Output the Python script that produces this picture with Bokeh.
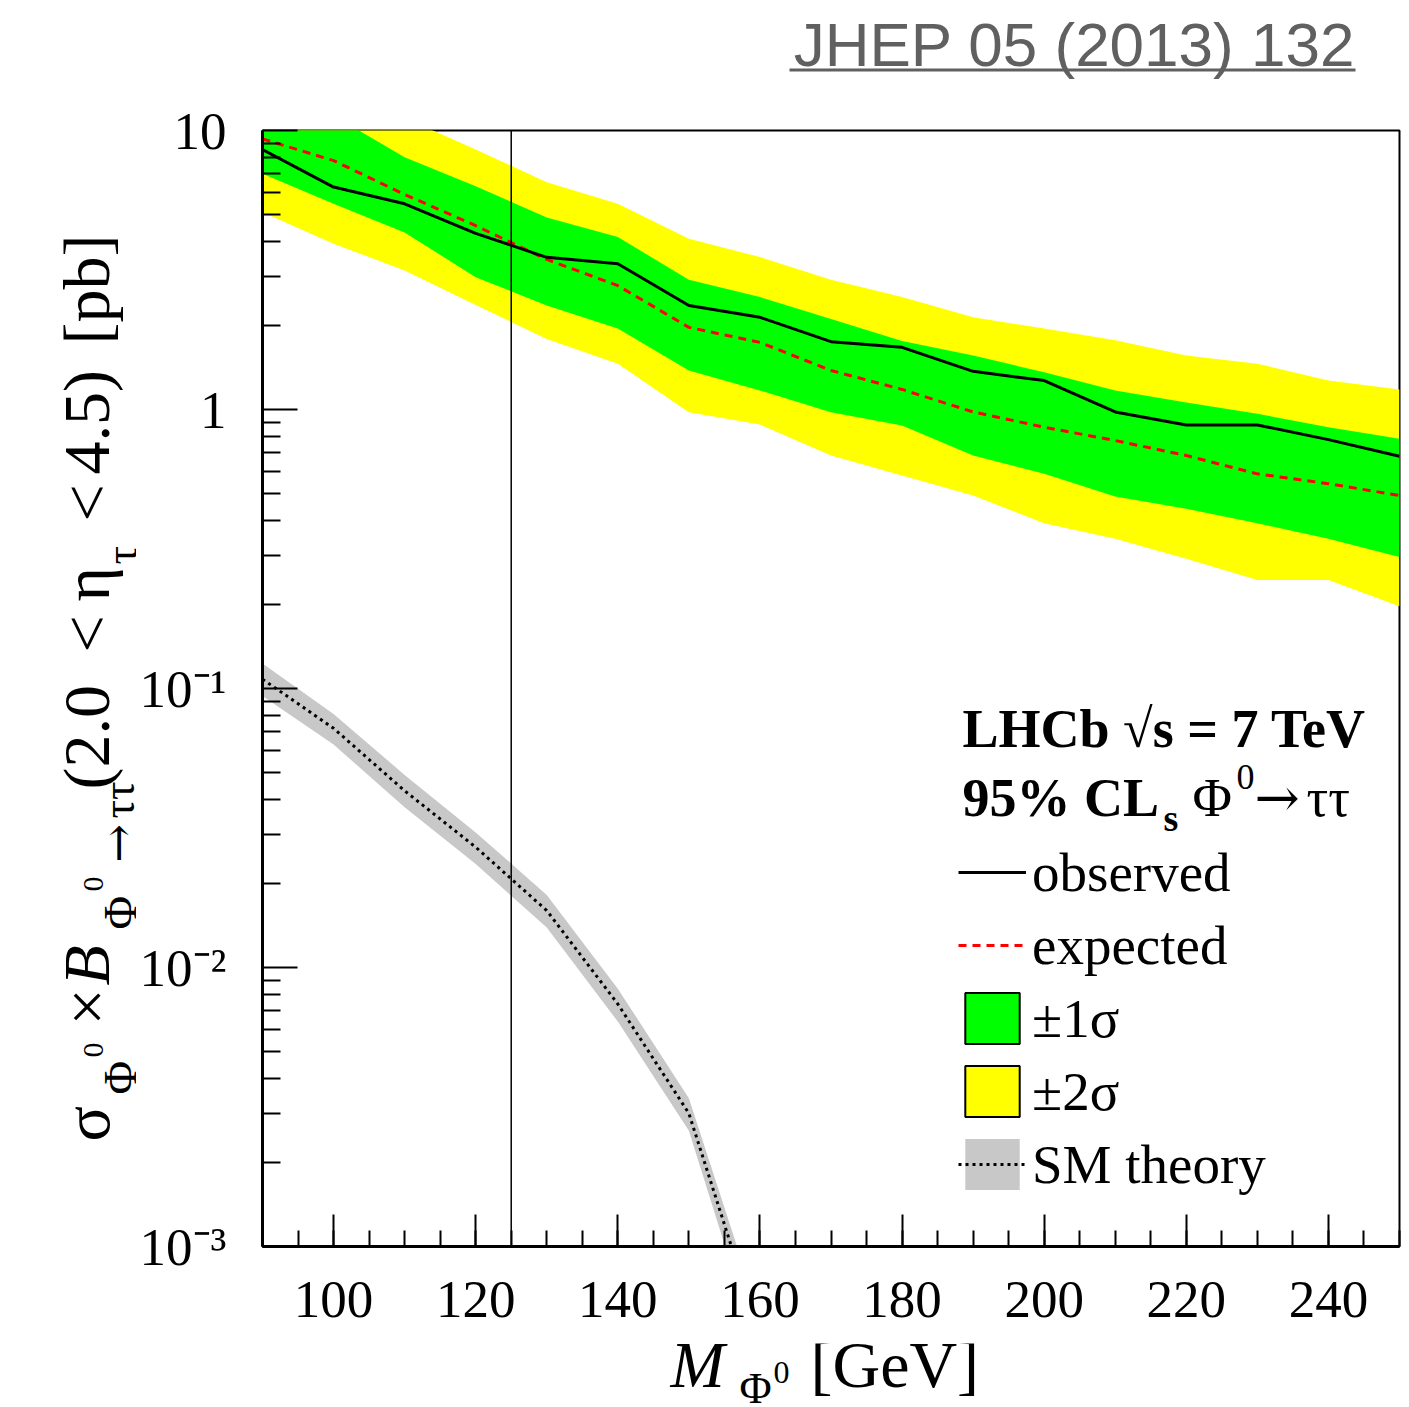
from bokeh.plotting import figure
from bokeh.layouts import column, row
from bokeh.models import (Range1d, FixedTicker, Label, Span, Legend, LegendItem,
                          BoxAnnotation)
from bokeh.embed import file_html
from bokeh.resources import INLINE

# ---------------- data ----------------
mass = [90, 100, 110, 120, 130, 140, 150, 160, 170, 180, 190, 200, 210, 220, 230, 240, 250]
observed = [8.55, 6.27, 5.46, 4.28, 3.51, 3.33, 2.36, 2.14, 1.75, 1.67, 1.37, 1.27,
            0.98, 0.88, 0.88, 0.78, 0.68]
expected = [9.33, 7.8, 5.9, 4.56, 3.45, 2.78, 1.97, 1.74, 1.38, 1.18, 0.98, 0.864,
            0.774, 0.684, 0.588, 0.542, 0.492]
sigma1_hi = [15.6, 11.3, 8.02, 6.31, 4.88, 4.15, 2.92, 2.53, 2.11, 1.76, 1.56, 1.36,
             1.17, 1.06, 0.965, 0.864, 0.785]
sigma1_lo = [7.0, 5.46, 4.31, 2.98, 2.36, 1.95, 1.38, 1.17, 0.978, 0.877, 0.684, 0.588,
             0.488, 0.441, 0.391, 0.344, 0.296]
sigma2_hi = [18.0, 14.0, 11.1, 8.55, 6.53, 5.46, 4.09, 3.52, 2.92, 2.53, 2.14, 1.95,
             1.77, 1.56, 1.46, 1.27, 1.18]
sigma2_lo = [5.09, 3.93, 3.15, 2.37, 1.79, 1.46, 0.978, 0.883, 0.684, 0.58, 0.492, 0.391,
             0.344, 0.292, 0.245, 0.245, 0.197]

sm_mass = [90, 100, 110, 120, 130, 140, 150, 160]
sm_xsec = [0.108, 0.072, 0.043, 0.027, 0.016, 0.0074, 0.0030, 0.00048]
sm_hi = [0.123, 0.081, 0.049, 0.0305, 0.0182, 0.0084, 0.0034, 0.00056]
sm_lo = [0.094, 0.063, 0.0375, 0.0235, 0.0139, 0.0064, 0.0026, 0.00040]

higgs_mass = 125

x_major = [100, 120, 140, 160, 180, 200, 220, 240]
x_minor = list(range(90, 251, 5))
y_major = [0.001, 0.01, 0.1, 1, 10]
y_minor = [m * d for d in (0.001, 0.01, 0.1, 1) for m in range(2, 10)]
y_labels = {0.001: "10\u207b\u00b3", 0.01: "10\u207b\u00b2", 0.1: "10\u207b\u00b9", 1: "1", 10: "10"}

legend_labels = ["observed", "expected", "\u00b11\u03c3", "\u00b12\u03c3", "SM theory"]

# ---------------- layout (page pixels) ----------------
W, H = 1409, 1407
TOP_H, LEFT_W, BOTTOM_H = 90, 136, 64
MAIN_W, MAIN_H = W - LEFT_W, H - TOP_H - BOTTOM_H
FL, FR, FT, FB = 262, 1399, 130, 1246          # plot frame in page pixels
SERIF = "Liberation Serif"
ARROWF = "DejaVu Serif"
K = 0.33   # baseline correction (fraction of font size)

p = figure(width=MAIN_W, height=MAIN_H, x_range=Range1d(90, 250), y_range=Range1d(1e-3, 10),
           y_axis_type="log", output_backend="svg", toolbar_location=None,
           min_border_left=FL - LEFT_W, min_border_right=W - FR,
           min_border_top=FT - TOP_H, min_border_bottom=TOP_H + MAIN_H - FB,
           frame_align=False)
p.grid.visible = False
p.background_fill_color = "white"
p.border_fill_color = "white"
p.outline_line_color = "black"
p.outline_line_width = 2

# bands and curves
y2_r = p.varea(x=mass, y1=sigma2_lo, y2=sigma2_hi, fill_color="#ffff00")
y1_r = p.varea(x=mass, y1=sigma1_lo, y2=sigma1_hi, fill_color="#00ff00")
sm_band = p.varea(x=sm_mass, y1=sm_lo, y2=sm_hi, fill_color="#c8c8c8")
sm_line = p.line(sm_mass, sm_xsec, line_color="black", line_width=3, line_dash="3 4")
exp_r = p.line(mass, expected, line_color="#ff0000", line_width=3, line_dash="8 6")
obs_r = p.line(mass, observed, line_color="black", line_width=3)
p.add_layout(Span(location=higgs_mass, dimension="height", line_color="black", line_width=1.5))

# axes
for ax in (p.xaxis, p.yaxis):
    ax.axis_line_width = 3
    ax.major_tick_line_width = 2
    ax.minor_tick_line_width = 2
    ax.major_tick_out = 0
    ax.minor_tick_out = 0
    ax.major_label_text_font = SERIF
    ax.major_label_text_font_size = "53px"
    ax.major_label_text_color = "black"

p.xaxis.ticker = FixedTicker(ticks=x_major, minor_ticks=x_minor)
p.xaxis.major_tick_in = 32
p.xaxis.minor_tick_in = 16
p.xaxis.major_label_standoff = 35

p.yaxis.ticker = FixedTicker(ticks=y_major, minor_ticks=y_minor)
p.yaxis.major_label_overrides = y_labels
p.yaxis.major_tick_in = 35
p.yaxis.minor_tick_in = 18
p.yaxis.major_label_standoff = 36


def main_lab(text, X, Y, size, style="normal", font=SERIF):
    p.add_layout(Label(x=X - FL, y=FB - (Y - K * size), x_units="screen", y_units="screen",
                       text=text, text_font=font, text_font_size=f"{size}px",
                       text_font_style=style, text_align="left",
                       text_baseline="alphabetic", text_color="black"))


# legend header
main_lab("LHCb \u221as = 7 TeV", 962, 746, 54, "bold")
main_lab("95% CL", 962, 815, 54, "bold")
main_lab("s", 1163, 830, 38, "bold")
main_lab("\u03a6", 1192, 815, 54)
main_lab("0", 1236, 788, 36)
main_lab("\u2192", 1254, 815, 54, "normal", ARROWF)
main_lab("\u03c4\u03c4", 1306, 815, 54)

# legend proxies (hidden) for the outlined band boxes
g1 = p.rect(x=mass, y=expected, width=0, height=0, fill_color="#00ff00",
            line_color="black", line_width=2, visible=False)
g2 = p.rect(x=mass, y=expected, width=0, height=0, fill_color="#ffff00",
            line_color="black", line_width=2, visible=False)

legend = Legend(items=[
    LegendItem(label=legend_labels[0], renderers=[obs_r]),
    LegendItem(label=legend_labels[1], renderers=[exp_r]),
    LegendItem(label=legend_labels[2], renderers=[g1]),
    LegendItem(label=legend_labels[3], renderers=[g2]),
    LegendItem(label=legend_labels[4], renderers=[sm_band, sm_line]),
], location=(958 - FL, FB - 1196), glyph_width=68, glyph_height=64, label_height=64,
    spacing=9, padding=0, margin=0, label_standoff=6,
    label_text_font=SERIF, label_text_font_size="55px", label_text_color="black",
    border_line_alpha=0, background_fill_alpha=0, inactive_fill_alpha=0)
p.add_layout(legend)


# ---------------- text panels around the plot ----------------
def text_panel(w, h):
    f = figure(width=w, height=h, x_range=Range1d(0, w), y_range=Range1d(0, h),
               output_backend="svg", toolbar_location=None, min_border=0,
               x_axis_location=None, y_axis_location=None, frame_align=False)
    f.outline_line_color = None
    f.grid.visible = False
    f.background_fill_color = "white"
    f.border_fill_color = "white"
    return f


def panel_lab(f, ox, oy, h, text, X, Y, size, angle=0, style="normal",
              font=SERIF, color="black", align="left"):
    if angle == 0:
        Y = Y - K * size
    else:
        X = X - K * size
    f.add_layout(Label(x=X - ox, y=h - (Y - oy), text=text, text_font=font,
                       text_font_size=f"{size}px", text_font_style=style,
                       angle=angle, angle_units="deg", text_align=align,
                       text_baseline="alphabetic", text_color=color))


# journal reference (top)
top = text_panel(W, TOP_H)
panel_lab(top, 0, 0, TOP_H, "JHEP 05 (2013) 132", 1355, 64, 62, 0, "normal",
          "Liberation Sans", "#606060", "right")
top.add_layout(BoxAnnotation(left=789, right=1355, top=TOP_H - 68, bottom=TOP_H - 71,
                             fill_color="#606060", fill_alpha=1.0, line_alpha=0))

# y-axis title (left, rotated)
left = text_panel(LEFT_W, MAIN_H)
oy = TOP_H
for txt, X, Y, s, st, fnt in [
    ("\u03c3", 108, 1141, 66, "normal", SERIF),
    ("\u03a6", 135, 1094, 46, "normal", SERIF),
    ("0", 103, 1057, 30, "normal", SERIF),
    ("\u00d7", 108, 1025, 66, "normal", SERIF),
    ("B", 108, 985, 66, "italic", SERIF),
    ("\u03a6", 135, 929, 46, "normal", SERIF),
    ("0", 103, 891, 30, "normal", SERIF),
    ("\u2192", 133, 862, 46, "normal", ARROWF),
    ("\u03c4\u03c4", 133, 818, 46, "normal", SERIF),
    ("(2.0", 108, 789, 66, "normal", SERIF),
    ("<", 108, 652, 66, "normal", SERIF),
    ("\u03b7", 108, 601, 66, "normal", SERIF),
    ("\u03c4", 136, 564, 46, "normal", SERIF),
    ("<", 108, 521, 66, "normal", SERIF),
    ("4.5)", 108, 474, 66, "normal", SERIF),
    ("[pb]", 108, 344, 66, "normal", SERIF),
]:
    panel_lab(left, 0, oy, MAIN_H, txt, X, Y, s, 90, st, fnt)

# x-axis title (bottom)
bottom = text_panel(W, BOTTOM_H)
oyb = TOP_H + MAIN_H
panel_lab(bottom, 0, oyb, BOTTOM_H, "M", 670, 1386, 65, 0, "italic")
panel_lab(bottom, 0, oyb, BOTTOM_H, "\u03a6", 739, 1403, 44)
panel_lab(bottom, 0, oyb, BOTTOM_H, "0", 773, 1383, 32)
panel_lab(bottom, 0, oyb, BOTTOM_H, "[GeV]", 810, 1386, 66)

layout = column(top, row(left, p, spacing=0), bottom, spacing=0)

open("out.html", "w").write(file_html(layout, INLINE))
